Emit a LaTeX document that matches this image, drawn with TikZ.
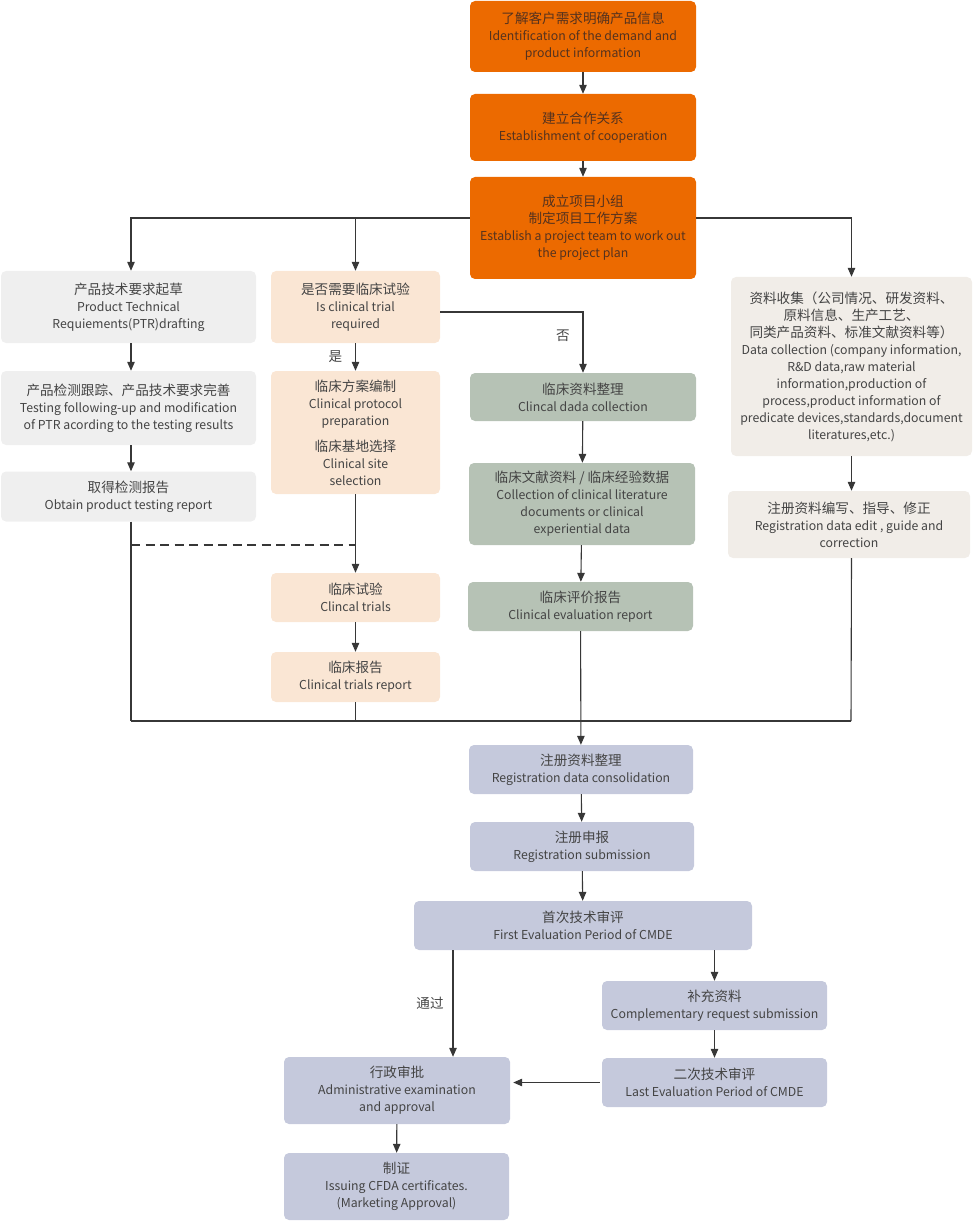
\documentclass[tikz,border=0pt]{standalone}
\usepackage{fontspec}
\setmainfont{Noto Sans CJK SC}
\usetikzlibrary{arrows.meta}
\definecolor{cOrange}{RGB}{236,106,0}
\definecolor{cGray}{RGB}{239,239,239}
\definecolor{cPeach}{RGB}{250,230,212}
\definecolor{cGreen}{RGB}{182,194,181}
\definecolor{cBeige}{RGB}{241,237,232}
\definecolor{cBlue}{RGB}{197,201,220}
\definecolor{cText}{RGB}{68,68,68}
\definecolor{cOText}{RGB}{85,50,30}
\definecolor{cLine}{RGB}{55,55,55}
\newcommand\zh[1]{{\fontsize{13.6}{17}\selectfont #1}}
\begin{document}
\begin{tikzpicture}[x=1pt,y=-1pt,
  box/.style={rounded corners=5pt, align=center, inner sep=0pt, text=cText,
    font=\fontsize{12.3}{17}\selectfont},
  obox/.style={box, fill=cOrange, text=cOText},
  ln/.style={draw=cLine, line width=1.1pt},
  arr/.style={ln, -{Triangle[length=9pt,width=7.5pt]}},
  lbl/.style={text=cText, font=\fontsize{13.6}{15}\selectfont, inner sep=0pt}]
\useasboundingbox (0,0) rectangle (974,1222);

% top orange boxes
\node[obox, minimum width=226pt, minimum height=71pt] (t1) at (583,36.5)
  {\zh{了解客户需求明确产品信息}\\Identification of the demand and\\product information};
\node[obox, minimum width=226pt, minimum height=67pt] (t2) at (583,127.5)
  {\zh{建立合作关系}\\Establishment of cooperation};
\node[obox, minimum width=226pt, minimum height=102pt] (t3) at (583,228)
  {\zh{成立项目小组}\\\zh{制定项目工作方案}\\Establish a project team to work out\\the project plan};

% left column
\node[box, fill=cGray, minimum width=255pt, minimum height=72pt] (l1) at (128.5,307)
  {\zh{产品技术要求起草}\\Product Technical\\Requiements(PTR)drafting};
\node[box, fill=cGray, minimum width=255pt, minimum height=74pt] (l2) at (128.5,408)
  {\zh{产品检测跟踪、产品技术要求完善}\\Testing following-up and modification\\of PTR acording to the testing results};
\node[box, fill=cGray, minimum width=255pt, minimum height=50pt] (l3) at (128.5,496.5)
  {\zh{取得检测报告}\\Obtain product testing report};

% clinical column
\node[box, fill=cPeach, minimum width=169pt, minimum height=72pt] (m1) at (355.5,307)
  {\zh{是否需要临床试验}\\Is clinical trial\\required};
\node[box, fill=cPeach, minimum width=169pt, minimum height=123pt] (m2) at (355.5,432.5)
  {\zh{临床方案编制}\\Clinical protocol\\preparation\\[9pt]\zh{临床基地选择}\\Clinical site\\selection};
\node[box, fill=cPeach, minimum width=169pt, minimum height=49pt] (m3) at (355.5,597.5)
  {\zh{临床试验}\\Clincal trials};
\node[box, fill=cPeach, minimum width=169pt, minimum height=50pt] (m4) at (355.5,677)
  {\zh{临床报告}\\Clinical trials report};

% green column
\node[box, fill=cGreen, minimum width=226pt, minimum height=48pt] (g1) at (583,397)
  {\zh{临床资料整理}\\Clincal dada collection};
\node[box, fill=cGreen, minimum width=226pt, minimum height=82pt] (g2) at (582,504)
  {\zh{临床文献资料 / 临床经验数据}\\Collection of clinical literature\\documents or clinical\\experiential data};
\node[box, fill=cGreen, minimum width=225pt, minimum height=49pt] (g3) at (580.5,606.5)
  {\zh{临床评价报告}\\Clinical evaluation report};

% right column
\node[box, fill=cBeige, minimum width=241pt, minimum height=179pt] (r1) at (851.5,366.5)
  {\zh{资料收集（公司情况、研发资料、}\\\zh{原料信息、生产工艺、}\\\zh{同类产品资料、标准文献资料等）}\\Data collection (company information,\\R\&D data,raw material\\information,production of\\process,product information of\\predicate devices,standards,document\\literatures,etc.)};
\node[box, fill=cBeige, minimum width=242pt, minimum height=67pt] (r2) at (849,524.5)
  {\zh{注册资料编写、指导、修正}\\Registration data edit , guide and\\correction};

% registration
\node[box, fill=cBlue, minimum width=224pt, minimum height=49pt] (g4) at (581,769.5)
  {\zh{注册资料整理}\\Registration data consolidation};
\node[box, fill=cBlue, minimum width=224pt, minimum height=49pt] (g5) at (582,846.5)
  {\zh{注册申报}\\Registration submission};
\node[box, fill=cBlue, minimum width=338pt, minimum height=49pt] (g6) at (583,925.5)
  {\zh{首次技术审评}\\First Evaluation Period of CMDE};
\node[box, fill=cBlue, minimum width=225pt, minimum height=49pt] (c1) at (714.5,1005.5)
  {\zh{补充资料}\\Complementary request submission};
\node[box, fill=cBlue, minimum width=225pt, minimum height=49pt] (c2) at (714.5,1082.5)
  {\zh{二次技术审评}\\Last Evaluation Period of CMDE};
\node[box, fill=cBlue, minimum width=226pt, minimum height=67pt] (a1) at (397,1090.5)
  {\zh{行政审批}\\Administrative examination\\and approval};
\node[box, fill=cBlue, minimum width=225pt, minimum height=67pt] (a2) at (396.5,1186.5)
  {\zh{制证}\\Issuing CFDA certificates.\\(Marketing Approval)};

% coordinates
\coordinate (bl) at (131,721);
\coordinate (br) at (851,721);

% connectors
\draw[arr] (t1) -- (t2);
\draw[arr] (t2) -- (t3);
\draw[arr] ([yshift=10pt]t3.west) -| ([xshift=2.5pt]l1.north);
\draw[arr] ([yshift=10pt]t3.west) -| (m1.north);
\draw[arr] ([yshift=10pt]t3.east) -| (r1.north);

\draw[arr] ([xshift=2.5pt]l1.south) -- ([xshift=2.5pt]l2.north);
\draw[arr] ([xshift=2.5pt]l2.south) -- ([xshift=2.5pt]l3.north);
\draw[ln] ([xshift=2.5pt]l3.south) -- (bl);
\draw[ln, line width=1.6pt, dash pattern=on 9pt off 5.5pt] (131,545) -- (m2.south |- 0,545);

\draw[arr] (m1) -- (m2) node[lbl, pos=0.5, xshift=-20pt] {是};
\draw[arr] (m1.east |- 0,312) -| (g1.north);
\node[lbl] (no) at (563,336) {否};
\draw[arr] (m2) -- (m3);
\draw[arr] (m3) -- (m4);
\draw[ln] (m4.south) -- (m4.south |- bl);

\draw[arr] (g1) -- (g2);
\draw[arr] (g2) -- (g3);

\draw[arr] (r1) -- (r1.south |- r2.north);
\draw[ln] (r1.south |- r2.south) -- (br);
\draw[ln] (bl) -- (br);

\draw[arr] (g3) -- (g4);
\draw[arr] (g4) -- (g5);
\draw[arr] (g5) -- (g6);
\draw[arr] ([xshift=-130pt]g6.south) -- ([xshift=-130pt]g6.south |- a1.north);
\node[lbl] (pass) at (430,1003) {通过};
\draw[arr] (g6.south -| c1.north) -- (c1.north);
\draw[arr] (c1) -- (c2);
\draw[arr] ([xshift=-2pt]c2.west) -- ([xshift=3pt]a1.east |- c2.west);
\draw[arr] (a1) -- (a2);
\end{tikzpicture}
\end{document}
